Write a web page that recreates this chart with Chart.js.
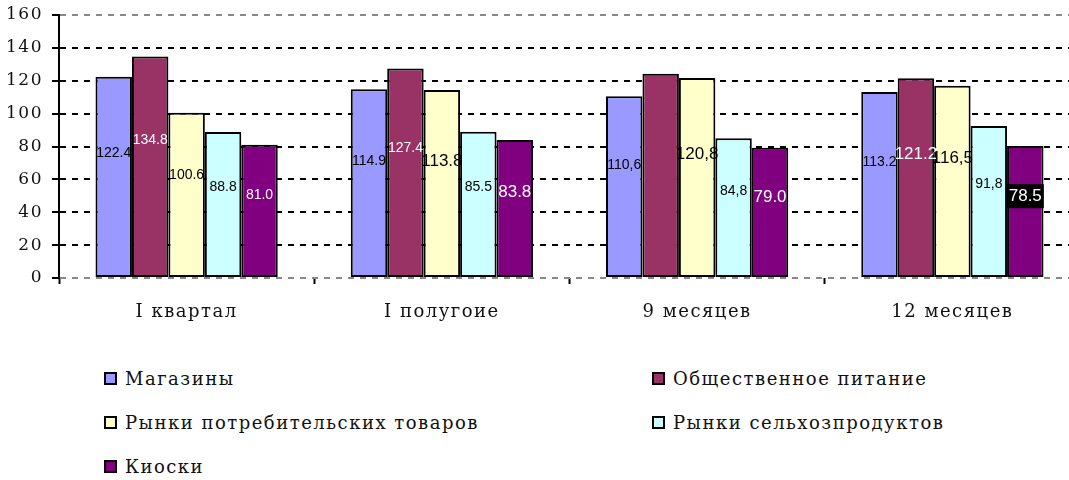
<!DOCTYPE html>
<html>
<head>
<meta charset="utf-8">
<script src="https://cdn.jsdelivr.net/npm/chart.js@4/dist/chart.umd.min.js"></script>
<style>
  html, body { margin: 0; background: #fff; width: 1069px; height: 480px; overflow: hidden; }
  #chart { display: block; }
  #legend {
    display: grid;
    grid-template-columns: 548px 420px;
    margin-left: 104px;
    margin-top: 27px;
    row-gap: 22px;
    font-family: "DejaVu Serif", serif;
    font-size: 18px;
    letter-spacing: 1.5px;
    color: #111;
  }
  #legend div { display: flex; align-items: center; height: 22px; white-space: nowrap; }
  #legend span.box {
    width: 9px; height: 9px; border: 2px solid #000; margin-right: 8px; flex: none;
  }
</style>
</head>
<body>
<canvas id="chart" width="1080" height="340"></canvas>
<div id="legend"></div>
<script>
const periods = ["I квартал", "I полугоие", "9 месяцев", "12 месяцев"];
const seriesNames = ["Магазины", "Общественное питание", "Рынки потребительских товаров", "Рынки сельхозпродуктов", "Киоски"];

// bar heights
const shops    = [122.4, 114.9, 110.6, 113.2];
const catering = [134.8, 127.4, 124.3, 121.5];
const consumer = [100.6, 114.3, 121.6, 117.0];
const farm     = [88.8, 89.0, 85.0, 92.5];
const kiosks   = [81.0, 84.0, 79.2, 80.3];

// label texts printed on the bars (as they appear in the picture)
const shopsText    = ["122.4", "114.9", "110,6", "113.2"];
const cateringText = ["134.8", "127.4", null, "121.2"];
const consumerText = ["100.6", "113.8", "120,8", "116,5"];
const farmText     = ["88.8", "85.5", "84,8", "91,8"];
const kiosksText   = ["81.0", "83.8", "79.0", "78.5"];

const yTicks = [0, 20, 40, 60, 80, 100, 120, 140, 160];

const colors = ["#9999FF", "#993366", "#FFFFCC", "#CCFFFF", "#800080"];
const textColors = ["#000", "#fff", "#000", "#000", "#fff"];
const allData = [shops, catering, consumer, farm, kiosks];
const allText = [shopsText, cateringText, consumerText, farmText, kiosksText];

// spaced-out serif text like the original
const spacing = {
  id: "spacing",
  beforeDraw(chart) { chart.ctx.letterSpacing = "1.5px"; }
};

const valueLabels = {
  id: "valueLabels",
  afterDatasetsDraw(chart, args, opts) {
    const ctx = chart.ctx;
    const yScale = chart.scales.y;
    chart.data.datasets.forEach((ds, di) => {
      chart.getDatasetMeta(di).data.forEach((bar, i) => {
        const text = ds.valueText[i];
        if (!text) return;
        const key = di + "-" + i;
        const size = opts.big.includes(key) ? 17 : 14;
        const y = yScale.getPixelForValue(ds.data[i] * opts.level);
        ctx.save();
        ctx.letterSpacing = "0px";
        ctx.font = size + "px 'Liberation Sans', Arial, sans-serif";
        ctx.textAlign = "center";
        ctx.textBaseline = "middle";
        if (opts.boxed.includes(key)) {
          const w = ctx.measureText(text).width + 4;
          ctx.fillStyle = "#000";
          ctx.fillRect(bar.x - w / 2, y - 12, w, 24);
        }
        ctx.fillStyle = ds.textColor;
        ctx.fillText(text, bar.x, y);
        ctx.restore();
      });
    });
  }
};

const gridColor = ctx => (ctx.index === 0 || ctx.index === yTicks.length - 1) ? "#888" : "#000";

const chart = new Chart(document.getElementById("chart"), {
  type: "bar",
  data: {
    labels: periods,
    datasets: seriesNames.map((name, i) => ({
      label: name,
      data: allData[i],
      valueText: allText[i],
      textColor: textColors[i],
      backgroundColor: colors[i],
      borderColor: "#000",
      borderWidth: 2,
      borderSkipped: false,
      categoryPercentage: 0.714,
      barPercentage: 1
    }))
  },
  options: {
    responsive: false,
    animation: false,
    layout: { padding: 0 },
    plugins: {
      legend: { display: false },
      tooltip: { enabled: false },
      valueLabels: {
        level: 0.62,
        big: ["2-1", "4-1", "2-2", "4-2", "2-3", "1-3", "4-3"],
        boxed: ["4-3"]
      }
    },
    scales: {
      x: {
        afterFit: s => { s.height = 62; },
        grid: {
          offset: true,
          drawOnChartArea: false,
          tickLength: 6,
          tickColor: "#000",
          tickWidth: 2
        },
        border: { display: false },
        ticks: {
          color: "#111",
          padding: 18,
          font: { family: "'DejaVu Serif', serif", size: 18 }
        }
      },
      y: {
        min: 0,
        max: 160,
        afterFit: s => { s.width = 59; s.paddingTop = 15; s.paddingBottom = 0; },
        afterBuildTicks: s => { s.ticks = yTicks.map(v => ({ value: v })); },
        grid: {
          color: gridColor,
          lineWidth: 2,
          borderDash: [6, 6],
          tickLength: 7,
          tickColor: "#000",
          tickWidth: 2,
          tickBorderDash: []
        },
        border: { display: true, color: "#000", width: 2, dash: [6, 6] },
        ticks: {
          color: "#111",
          padding: 9,
          font: { family: "'DejaVu Serif', serif", size: 17 }
        }
      }
    }
  },
  plugins: [spacing, valueLabels]
});

// HTML legend, two columns like the original
const legend = document.getElementById("legend");
chart.data.datasets.forEach(ds => {
  const item = document.createElement("div");
  item.innerHTML = `<span class="box" style="background:${ds.backgroundColor}"></span>${ds.label}`;
  legend.appendChild(item);
});
</script>
</body>
</html>
